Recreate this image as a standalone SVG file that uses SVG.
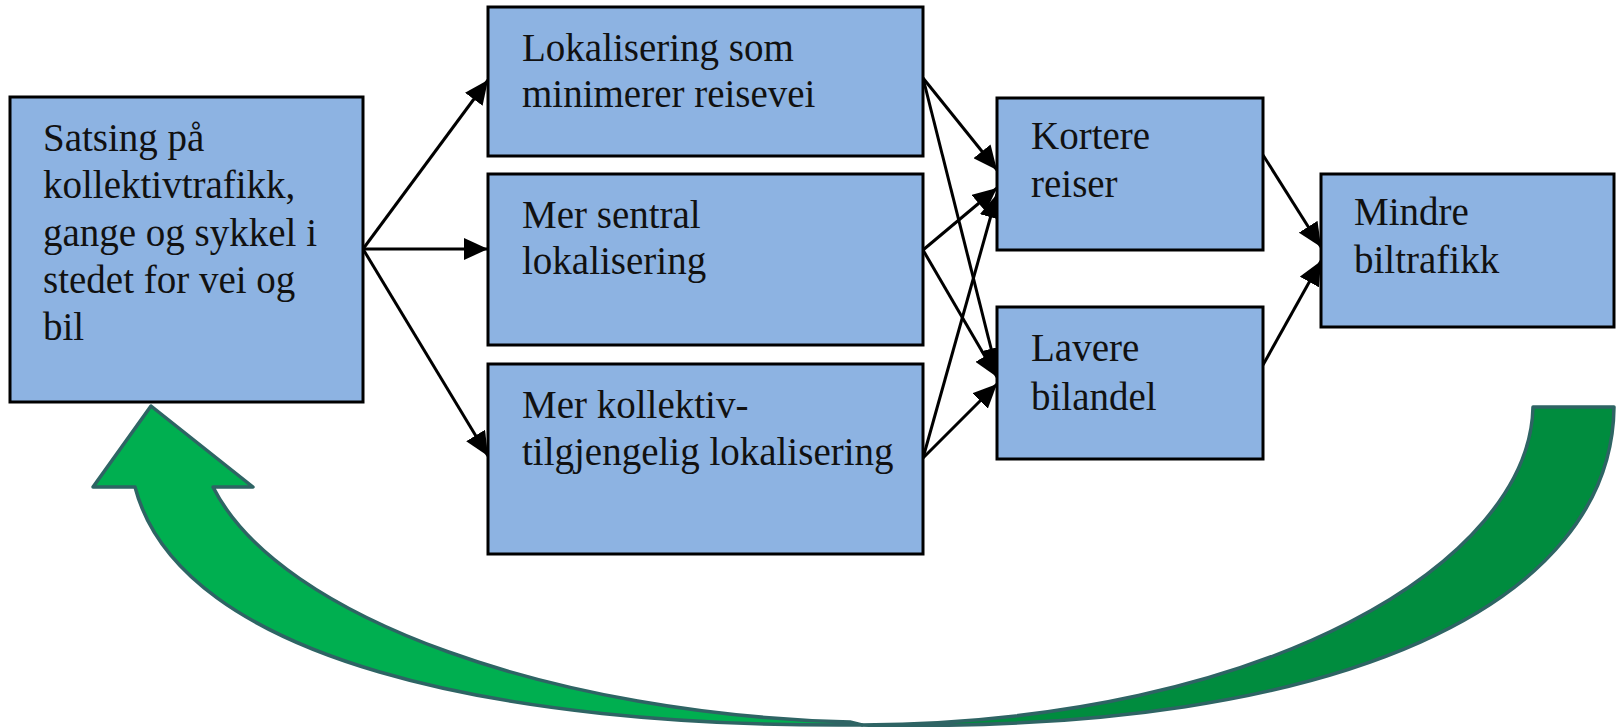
<svg xmlns="http://www.w3.org/2000/svg" width="1616" height="727" viewBox="0 0 1616 727">
  <style>
    .box { fill: #8DB3E2; stroke: #000; stroke-width: 3; }
    .lbl { font-family: "Liberation Serif", "Times New Roman", serif; font-size: 39px; fill: #111; }
    .edge { stroke: #000; stroke-width: 3; fill: none; marker-end: url(#head); }
    .loop { stroke: #2E6464; stroke-width: 3.5; stroke-linejoin: round; }
  </style>
  <defs>
    <marker id="head" markerUnits="userSpaceOnUse" markerWidth="24" markerHeight="22" refX="24" refY="11" orient="auto">
      <path d="M0,0 L24,11 L0,22 z" fill="#000"/>
    </marker>
  </defs>

  <rect width="1616" height="727" fill="#fff"/>

  <!-- feedback loop: curved arrow returning to the first box -->
  <g id="feedback">
    <path class="loop" fill="#008C3E" d="M1533,407 L1614,407 C1612,600 1350,735 862,725 C1270,722 1530,560 1533,407 z"/>
    <path class="loop" fill="#00AF50" d="M135,487 L93,487 L151,406 L253,487 L213,487 C280,620 560,715 850,722 L862,725 C500,728 180,660 135,487 z"/>
  </g>

  <!-- connectors -->
  <g id="connectors">
    <line class="edge" x1="363" y1="249" x2="488" y2="80"/>
    <line class="edge" x1="363" y1="249" x2="488" y2="249"/>
    <line class="edge" x1="363" y1="249" x2="488" y2="456"/>

    <line class="edge" x1="923" y1="78" x2="997" y2="170"/>
    <line class="edge" x1="923" y1="78" x2="997" y2="372"/>
    <line class="edge" x1="923" y1="250" x2="997" y2="188"/>
    <line class="edge" x1="923" y1="250" x2="997" y2="377"/>
    <line class="edge" x1="923" y1="458" x2="997" y2="194"/>
    <line class="edge" x1="923" y1="458" x2="997" y2="384"/>

    <line class="edge" x1="1263" y1="155" x2="1321" y2="247"/>
    <line class="edge" x1="1263" y1="365" x2="1321" y2="261"/>
  </g>

  <g id="satsing">
    <rect class="box" x="10" y="97" width="353" height="305"/>
    <text class="lbl" x="43">
      <tspan x="43" y="151">Satsing på</tspan>
      <tspan x="43" y="198">kollektivtrafikk,</tspan>
      <tspan x="43" y="246">gange og sykkel i</tspan>
      <tspan x="43" y="293">stedet for vei og</tspan>
      <tspan x="43" y="340">bil</tspan>
    </text>
  </g>

  <g id="lokalisering">
    <rect class="box" x="488" y="7" width="435" height="149"/>
    <text class="lbl">
      <tspan x="522" y="61">Lokalisering som</tspan>
      <tspan x="522" y="107">minimerer reisevei</tspan>
    </text>
  </g>

  <g id="sentral">
    <rect class="box" x="488" y="174" width="435" height="171"/>
    <text class="lbl">
      <tspan x="522" y="228">Mer sentral</tspan>
      <tspan x="522" y="274">lokalisering</tspan>
    </text>
  </g>

  <g id="kollektiv">
    <rect class="box" x="488" y="364" width="435" height="190"/>
    <text class="lbl">
      <tspan x="522" y="418">Mer kollektiv-</tspan>
      <tspan x="522" y="465">tilgjengelig lokalisering</tspan>
    </text>
  </g>

  <g id="kortere">
    <rect class="box" x="997" y="98" width="266" height="152"/>
    <text class="lbl">
      <tspan x="1031" y="149">Kortere</tspan>
      <tspan x="1031" y="197">reiser</tspan>
    </text>
  </g>

  <g id="lavere">
    <rect class="box" x="997" y="307" width="266" height="152"/>
    <text class="lbl">
      <tspan x="1031" y="361">Lavere</tspan>
      <tspan x="1031" y="410">bilandel</tspan>
    </text>
  </g>

  <g id="mindre">
    <rect class="box" x="1321" y="174" width="293" height="153"/>
    <text class="lbl">
      <tspan x="1354" y="225">Mindre</tspan>
      <tspan x="1354" y="273">biltrafikk</tspan>
    </text>
  </g>
</svg>
